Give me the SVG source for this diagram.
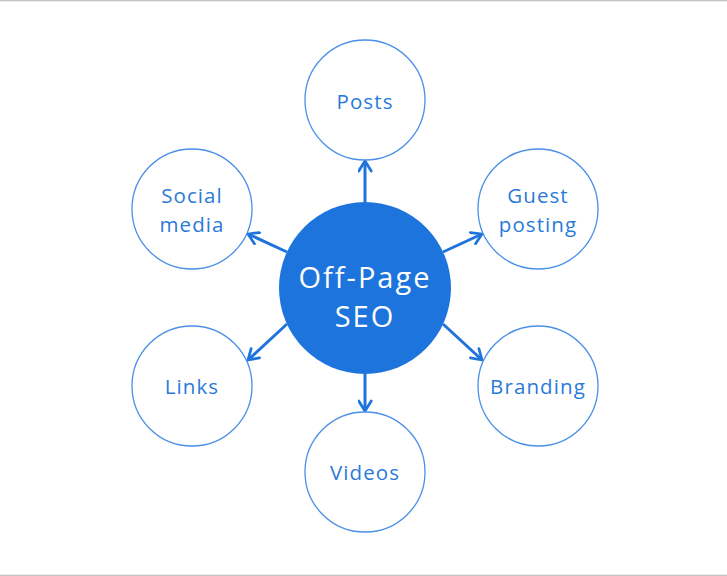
<svg xmlns="http://www.w3.org/2000/svg" width="727" height="576" viewBox="0 0 727 576">
<style>
.node{fill:#fff;stroke:#4a90e8;stroke-width:1.3}
.lbl{font-family:"Open Sans","DejaVu Sans",sans-serif;font-size:20.5px;letter-spacing:1.1px;fill:#2a7ad9;text-anchor:middle;dominant-baseline:central}
.ctr{font-family:"Open Sans","DejaVu Sans",sans-serif;font-size:29px;letter-spacing:2px;fill:#fff;text-anchor:middle;dominant-baseline:central}
.edge{stroke:#1e74dc;stroke-width:3;fill:none;marker-end:url(#arr)}
</style>
<defs>
<marker id="arr" viewBox="0 0 12 12" refX="10" refY="6" markerWidth="5" markerHeight="5" orient="auto" markerUnits="strokeWidth">
<path d="M2,1 L10,6 L2,11" fill="none" stroke="#1e74dc" stroke-width="2.2" stroke-linecap="round" stroke-linejoin="round"/>
</marker>
</defs>
<rect width="727" height="576" fill="#fff"/>
<line x1="0" y1="0.5" x2="727" y2="0.5" stroke="#c4c4c4" stroke-width="1.5"/>
<line x1="0" y1="575.5" x2="727" y2="575.5" stroke="#c4c4c4" stroke-width="1.5"/>
<g id="connectors">
<line class="edge" x1="365" y1="202" x2="365" y2="161"/>
<line class="edge" x1="443" y1="252" x2="482" y2="234"/>
<line class="edge" x1="443" y1="324" x2="482" y2="360"/>
<line class="edge" x1="365" y1="374" x2="365" y2="411"/>
<line class="edge" x1="287" y1="324" x2="248" y2="360"/>
<line class="edge" x1="287" y1="252" x2="248" y2="234"/>
</g>
<g id="posts"><circle class="node" cx="365" cy="100" r="60"/><text class="lbl" x="365" y="101">Posts</text></g>
<g id="guest-posting"><circle class="node" cx="538" cy="209" r="60"/><text class="lbl" x="538" y="195">Guest</text><text class="lbl" x="538" y="223.5">posting</text></g>
<g id="branding"><circle class="node" cx="538" cy="386" r="60"/><text class="lbl" x="538" y="386">Branding</text></g>
<g id="videos"><circle class="node" cx="365" cy="472" r="60"/><text class="lbl" x="365" y="472">Videos</text></g>
<g id="links"><circle class="node" cx="192" cy="386" r="60"/><text class="lbl" x="192" y="386">Links</text></g>
<g id="social-media"><circle class="node" cx="192" cy="209" r="60"/><text class="lbl" x="192" y="195">Social</text><text class="lbl" x="192" y="223.5">media</text></g>
<g id="off-page-seo"><circle cx="365" cy="288" r="86" fill="#1c74dc"/><text class="ctr" x="365" y="276">Off-Page</text><text class="ctr" x="365" y="315">SEO</text></g>
</svg>
